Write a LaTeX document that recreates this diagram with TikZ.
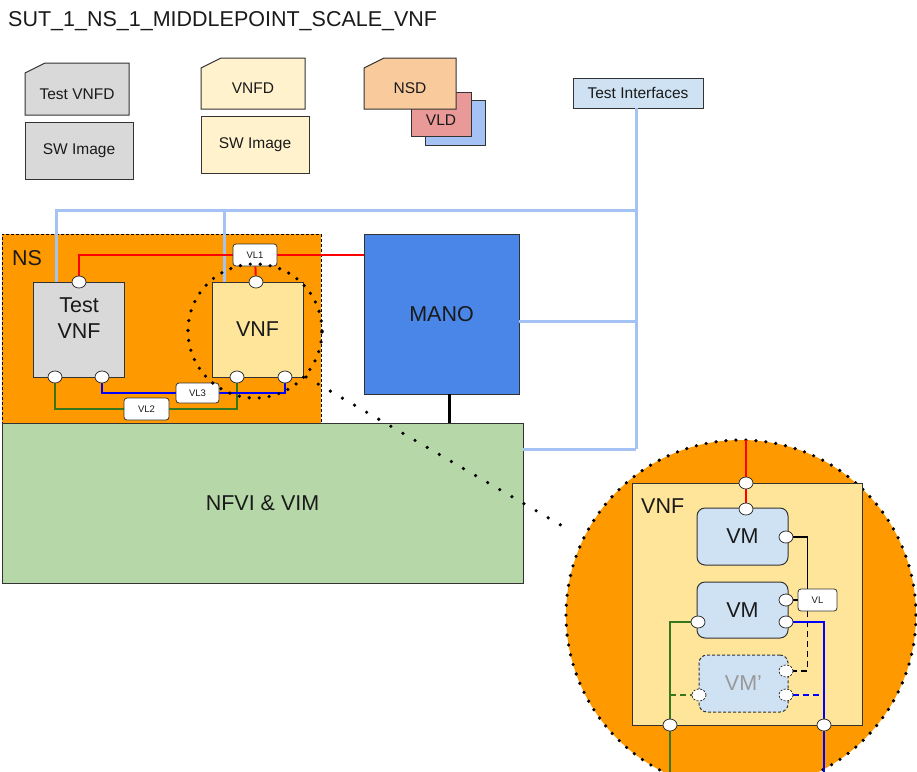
\documentclass[tikz,border=0pt]{standalone}
\usepackage{fontspec}
\setmainfont{Liberation Sans}
\usetikzlibrary{shapes.geometric}
\definecolor{bordc}{HTML}{333333}
\definecolor{grayf}{HTML}{D9D9D9}
\definecolor{creamf}{HTML}{FFF2CC}
\definecolor{nsdf}{HTML}{F9CB9C}
\definecolor{vldf}{HTML}{EA9999}
\definecolor{lblue}{HTML}{A4C2F4}
\definecolor{tiff}{HTML}{CFE2F3}
\definecolor{orng}{HTML}{FF9900}
\definecolor{vnff}{HTML}{FFE599}
\definecolor{manof}{HTML}{4A86E8}
\definecolor{nfvif}{HTML}{B6D7A8}
\definecolor{redl}{HTML}{FF0000}
\definecolor{bluel}{HTML}{0000FF}
\definecolor{greenl}{HTML}{38761D}
\definecolor{txtc}{HTML}{1A1A1A}
\newcommand\ftit{\fontsize{21.5pt}{24pt}\selectfont}
\newcommand\fbig{\fontsize{21.5pt}{26pt}\selectfont}
\newcommand\fmed{\fontsize{15.5pt}{18pt}\selectfont}
\newcommand\fsml{\fontsize{9.5pt}{11pt}\selectfont}
\pgfdeclarelayer{back}
\pgfdeclarelayer{mid}
\pgfsetlayers{back,mid,main}
\begin{document}
\begin{tikzpicture}[x=1pt,y=-1pt,
  bx/.style={draw=bordc,line width=1pt,inner sep=0pt,outer sep=0pt,text=txtc},
  prt/.style={ellipse,draw=bordc,fill=white,line width=0.8pt,minimum width=14pt,minimum height=12pt,inner sep=0pt},
  dprt/.style={prt,dash pattern=on 2pt off 1.5pt},
  vlb/.style={draw=bordc,fill=white,rounded corners=3pt,line width=0.8pt,inner sep=0pt,font=\fsml,text=txtc},
  tline/.style={line width=3pt,draw=lblue},
  rline/.style={line width=2pt,draw=redl},
  bline/.style={line width=2.2pt,draw=bluel},
  gline/.style={line width=2.2pt,draw=greenl},
  kline/.style={line width=1.6pt,draw=black},
  dots/.style={line width=3.6pt,dash pattern=on 0pt off 10pt,line cap=round,draw=black},
  vmb/.style={bx,fill=tiff,rounded corners=8pt,font=\fbig},
  doc/.style={draw=bordc,line width=1pt},
  txt/.style={inner sep=0pt,text=txtc},
]
\useasboundingbox (0,0) rectangle (917,771);

\node[txt,anchor=base west,font=\ftit] (title) at (8,27) {SUT\_1\_NS\_1\_MIDDLEPOINT\_SCALE\_VNF};

\begin{pgfonlayer}{back}
% documents
\draw[doc,fill=grayf] (25,73) -- (45,63) -- (129,63) -- (129,115) -- (25,115) -- cycle;
\node[txt,font=\fmed] (tvnfd) at (77,94) {Test VNFD};
\node[bx,fill=grayf,minimum width=108,minimum height=57,font=\fmed] (swg) at (79,150.5) {SW Image};
\draw[doc,fill=creamf] (201,68) -- (221,58) -- (305,58) -- (305,109) -- (201,109) -- cycle;
\node[txt,font=\fmed] (vnfd) at (253,88) {VNFD};
\node[bx,fill=creamf,minimum width=108,minimum height=57,font=\fmed] (swy) at (255,144.5) {SW Image};
\node[bx,fill=lblue,minimum width=60,minimum height=45] (bdoc) at (455,122.5) {};
\node[bx,fill=vldf,minimum width=60,minimum height=44] (vld) at (441,114) {};
\node[txt,font=\fmed] (vldt) at (441,120) {VLD};
\draw[doc,fill=nsdf] (364,68) -- (384,58) -- (456,58) -- (456,109) -- (364,109) -- cycle;
\node[txt,font=\fmed] (nsd) at (410,88) {NSD};
\node[bx,fill=tiff,minimum width=130,minimum height=30,font=\fmed] (tif) at (638,93) {Test Interfaces};
% main blocks
\node[bx,fill=orng,draw=black,dash pattern=on 3pt off 2pt,minimum width=319,minimum height=189] (ns) at (161.5,328.5) {};
\node[txt,font=\fbig,anchor=west] (nst) at (12,258) {NS};
\node[bx,fill=nfvif,minimum width=521,minimum height=160,font=\fbig] (nfvi) at (262.5,503) {NFVI \& VIM};
\node[bx,fill=manof,minimum width=155,minimum height=160,font=\fbig] (mano) at (441.5,314) {MANO};
\node[bx,fill=grayf,minimum width=91,minimum height=95] (tvnf) at (78.5,329.5) {};
\node[txt,font=\fbig,align=center] (tvnft) at (79,318) {Test\\VNF};
\node[bx,fill=vnff,minimum width=91,minimum height=95,font=\fbig] (vnf) at (257.5,329.5) {VNF};
% zoom circle
\node[circle,fill=orng,dots,minimum size=350,inner sep=0pt] (bc) at (741,615) {};
\node[bx,fill=vnff,minimum width=230,minimum height=242] (bvnf) at (747,604) {};
\node[txt,font=\fbig,anchor=west] (bvnft) at (641,506) {VNF};
\node[vmb,minimum width=91,minimum height=57] (vm1) at (742.5,536.5) {VM};
\node[vmb,minimum width=91,minimum height=56] (vm2) at (742.5,610) {VM};
\node[vmb,dash pattern=on 3pt off 2pt,minimum width=89,minimum height=57,text=black!40] (vmp) at (743.5,683.5) {VM’};
\end{pgfonlayer}

% ports
\node[prt] (tvp1) at (79,282) {};
\node[prt] (tvp2) at (55,377) {};
\node[prt] (tvp3) at (102,377) {};
\node[prt] (vnp1) at (256,282) {};
\node[prt] (vnp2) at (237,377) {};
\node[prt] (vnp3) at (285,377) {};
\node[vlb,minimum width=44,minimum height=22] (vl1) at (255,255) {VL1};
\node[vlb,minimum width=45,minimum height=22] (vl2) at (146.5,409) {VL2};
\node[vlb,minimum width=43,minimum height=20] (vl3) at (197.5,393) {VL3};

\node[prt] (bvp0) at (746,483) {};
\node[prt] (vm1p0) at (746,509) {};
\node[prt] (vm1p1) at (786,537) {};
\node[prt] (vm2p1) at (786,600) {};
\node[prt] (vm2p2) at (698,622) {};
\node[prt] (vm2p3) at (786,622) {};
\node[dprt] (vmpp1) at (786,671) {};
\node[dprt] (vmpp2) at (699,695) {};
\node[dprt] (vmpp3) at (786,695) {};
\node[prt] (bp1) at (670,725) {};
\node[prt] (bp2) at (824,725) {};
\node[vlb,minimum width=39,minimum height=22] (vl) at (817.5,600) {VL};

% zoom source circle and connector
\node[circle,dots,minimum size=134,inner sep=0pt] (zsrc) at (255,331) {};
\draw[dots,dash pattern=on 0pt off 14pt,shorten >=15pt] (zsrc.-42) -- (bc.154);

\coordinate (tbus) at (636,449);
\coordinate (ta) at (56,210);
\coordinate (tb) at (224,210);
\coordinate (rtop) at (746,440);
\coordinate (bot) at (0,790);

\begin{pgfonlayer}{mid}
% test interface lines
\draw[tline] (tif.south -| tbus) -- (tbus);
\draw[tline] (ta |- tvnf.north) -- (ta) -- (ta -| tbus);
\draw[tline] (tb) -- (tb |- vnf.north);
\draw[tline] ([yshift=-7pt]mano.east) -- ([yshift=-7pt]mano.east -| tbus);
\draw[tline] (nfvi.east |- tbus) -- (tbus);
% NS links
\draw[rline] (tvp1) |- (vl1.west);
\draw[rline] (vl1.east) -- (vl1.east -| mano.west);
\draw[rline] (vl1) -- (vnp1);
\draw[gline] (tvp2) |- (vl2.west);
\draw[gline] (vl2.east) -| (vnp2);
\draw[bline] (tvp3) |- (vl3.west);
\draw[bline] (vl3.east) -| (vnp3);
\draw[line width=3pt] ([xshift=7.5pt]mano.south) -- ([xshift=7.5pt]mano.south |- nfvi.north);
% zoomed VNF internals
\draw[rline] (rtop) -- (bvp0) -- (vm1p0);
\draw[kline] (vm1p1) -| ([xshift=-10pt]vl.north);
\draw[kline] (vm2p1) -- (vl.west);
\draw[kline,dash pattern=on 6pt off 4pt] ([xshift=-10pt]vl.south) |- (vmpp1);
\draw[gline] (vm2p2) -| (bp1) -- (bp1 |- bot);
\draw[gline,dash pattern=on 6pt off 4pt] (bp1 |- vmpp2) -- (vmpp2);
\draw[bline] (vm2p3) -| (bp2) -- (bp2 |- bot);
\draw[bline,dash pattern=on 6pt off 4pt] (vmpp3) -- (vmpp3 -| bp2);
\end{pgfonlayer}
\end{tikzpicture}
\end{document}
